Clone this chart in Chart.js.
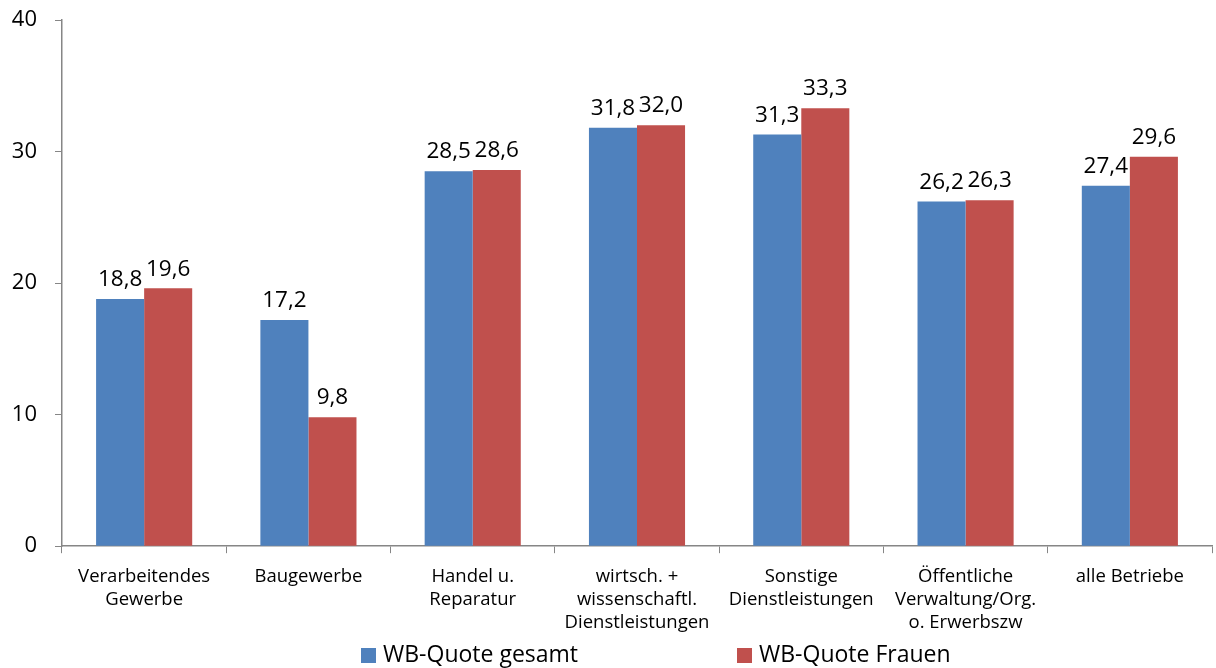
<!DOCTYPE html>
<html>
<head>
<meta charset="utf-8">
<script src="https://cdn.jsdelivr.net/npm/chart.js@4/dist/chart.umd.min.js"></script>
<style>
  html, body { margin: 0; padding: 0; background: #ffffff; }
  #wrap { position: relative; width: 1216px; height: 668px; }
</style>
</head>
<body>
<div id="wrap"><canvas id="c" width="1216" height="668"></canvas></div>
<script>
// Branchen (x-axis categories, multi-line)
const categories = [
  ['Verarbeitendes', 'Gewerbe'],
  ['Baugewerbe'],
  ['Handel u.', 'Reparatur'],
  ['wirtsch. +', 'wissenschaftl.', 'Dienstleistungen'],
  ['Sonstige', 'Dienstleistungen'],
  ['Öffentliche', 'Verwaltung/Org.', 'o. Erwerbszw'],
  ['alle Betriebe']
];
const seriesNames = ['WB-Quote gesamt', 'WB-Quote Frauen'];
const quoteGesamt = [18.8, 17.2, 28.5, 31.8, 31.3, 26.2, 27.4];
const quoteFrauen = [19.6, 9.8, 28.6, 32.0, 33.3, 26.3, 29.6];
const yTicks = [0, 10, 20, 30, 40];

const FONT = '"Open Sans", "Liberation Sans", sans-serif';
const BLUE = '#4F81BD';
const RED = '#C0504D';
const AXIS = '#868686';

const fmt = v => v.toFixed(1).replace('.', ',');

// Value labels above each bar
const valueLabels = {
  id: 'valueLabels',
  afterDatasetsDraw(chart) {
    const ctx = chart.ctx;
    ctx.save();
    ctx.font = '22.5px ' + FONT;
    ctx.fillStyle = '#000000';
    ctx.textAlign = 'center';
    ctx.textBaseline = 'bottom';
    chart.data.datasets.forEach((ds, i) => {
      chart.getDatasetMeta(i).data.forEach((bar, j) => {
        ctx.fillText(fmt(ds.data[j]), bar.x, bar.y - 8);
      });
    });
    ctx.restore();
  }
};

// Legend row under the axis labels
const bottomLegend = {
  id: 'bottomLegend',
  afterDraw(chart, args, opts) {
    const ctx = chart.ctx;
    ctx.save();
    ctx.font = '23px ' + FONT;
    ctx.textBaseline = 'middle';
    ctx.textAlign = 'left';
    chart.data.datasets.forEach((ds, i) => {
      const x = opts.xs[i];
      const y = opts.y;
      ctx.fillStyle = ds.backgroundColor;
      ctx.fillRect(x, y - 7, 15, 15);
      ctx.fillStyle = '#000000';
      ctx.fillText(ds.label, x + 22, y);
    });
    ctx.restore();
  }
};

new Chart(document.getElementById('c'), {
  type: 'bar',
  data: {
    labels: categories,
    datasets: [
      { label: seriesNames[0], data: quoteGesamt, backgroundColor: BLUE },
      { label: seriesNames[1], data: quoteFrauen, backgroundColor: RED }
    ]
  },
  options: {
    responsive: false,
    animation: false,
    layout: { padding: { left: 0, right: 4, top: 20, bottom: 22 } },
    datasets: { bar: { categoryPercentage: 0.585, barPercentage: 1.0 } },
    plugins: {
      legend: { display: false },
      tooltip: { enabled: false },
      bottomLegend: { xs: [361, 737], y: 655 }
    },
    scales: {
      x: {
        grid: { drawOnChartArea: false, drawTicks: true, tickLength: 7, color: AXIS, lineWidth: 1 },
        border: { color: AXIS, width: 1.5 },
        ticks: { color: '#000000', font: { family: FONT, size: 18.5, lineHeight: 1.24 }, padding: 12, maxRotation: 0, autoSkip: false }
      },
      y: {
        min: 0, max: 40,
        afterBuildTicks(axis) { axis.ticks = yTicks.map(v => ({ value: v })); },
        afterFit(axis) { axis.paddingTop = 0; axis.paddingBottom = 0; axis.width = 62; },
        grid: { drawOnChartArea: false, drawTicks: true, tickLength: 7, color: AXIS, lineWidth: 1 },
        border: { color: AXIS, width: 1.5 },
        ticks: { color: '#000000', font: { family: FONT, size: 22 }, padding: 18 }
      }
    }
  },
  plugins: [valueLabels, bottomLegend]
});
</script>
</body>
</html>
